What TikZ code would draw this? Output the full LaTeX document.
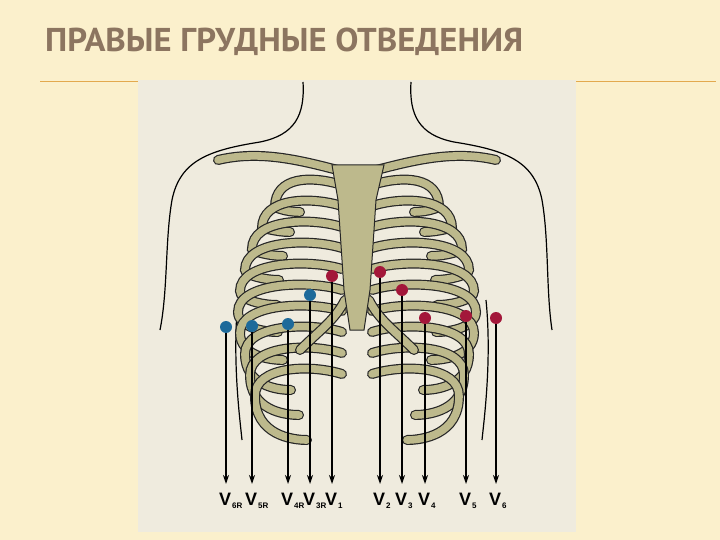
\documentclass[tikz,border=0pt]{standalone}
\usepackage{fontspec}
\usetikzlibrary{arrows.meta}
\setmainfont{Liberation Sans}
\newfontfamily\titlefont{PT Sans}
\begin{document}
\begin{tikzpicture}[x=1pt,y=-1pt,
 bone/.style={line width=10pt,draw=black!85,line cap=round},
 bonein/.style={line width=7.6pt,draw=bonecol,line cap=round},
 skin/.style={line width=1.2pt,draw=black},
 lead/.style={line width=1.3pt,-{Stealth[length=9pt,width=6pt]}},
 lbl/.style={font=\bfseries\fontsize{18}{18}\selectfont,inner sep=0pt,anchor=north west},
 eb/.style={circle,fill=elblue,inner sep=0pt,minimum size=12pt},
 er/.style={circle,fill=elred,inner sep=0pt,minimum size=12pt}]
\definecolor{bg}{HTML}{FBF0CC}
\definecolor{panel}{HTML}{EFEBDE}
\definecolor{bonecol}{HTML}{BDB98C}
\definecolor{elblue}{HTML}{1E6A9A}
\definecolor{elred}{HTML}{A3173A}
\definecolor{titlec}{HTML}{8C7560}
\definecolor{rule}{HTML}{E3A94E}
\useasboundingbox (0,0) rectangle (720,540);
\fill[bg] (0,0) rectangle (720,540);
\node[anchor=west,text=titlec,font=\titlefont\bfseries\fontsize{33}{33}\selectfont,inner sep=0pt] (title) at (45,42) {\scalebox{1.05}[1]{ПРАВЫЕ ГРУДНЫЕ ОТВЕДЕНИЯ}};
\draw[rule,line width=1pt] (40,82) -- (138,82) (576,82) -- (716,82);
\fill[panel] (138,80) rectangle (576,532);
% body outline
\draw[skin] (303,82) .. controls (305,115) and (295,135) .. (260,142) .. controls (210,150) and (180,160) .. (172,200) .. controls (165,240) and (168,290) .. (160,330);
\draw[skin] (411,82) .. controls (409,115) and (419,135) .. (454,142) .. controls (504,150) and (534,160) .. (542,200) .. controls (549,240) and (546,290) .. (552,330);
\draw[skin] (238,300) .. controls (232,360) and (240,420) .. (242,440);
\draw[skin] (486,300) .. controls (492,360) and (484,420) .. (482,440);
% ribs
\foreach \k/\xo/\ye in {0/275/212,1/262/232,2/252/256,3/245/280,4/240/305,5/238/332,6/240/360,7/245/390,8/250/415,9/255/440}{
 \pgfmathsetmacro\yo{185+\k*21}
 \pgfmathsetmacro\yc{\yo+22}
 \pgfmathsetmacro\xe{\xo+25+\k*3}
 \foreach \st in {bone,bonein}{
  \draw[\st] (342,\yo) .. controls (310,\yo-10) and (\xo,\yo-8) .. (\xo,\yc) .. controls (\xo,\ye-5) and (\xe-15,\ye) .. (\xe,\ye);
  \draw[\st] (372,\yo) .. controls (404,\yo-10) and (714-\xo,\yo-8) .. (714-\xo,\yc) .. controls (714-\xo,\ye-5) and (729-\xe,\ye) .. (714-\xe,\ye);
 }
}
% costal cartilage
\foreach \st in {bone,bonein}{
 \draw[\st] (300,350) .. controls (320,330) and (335,320) .. (345,300);
 \draw[\st] (414,350) .. controls (394,330) and (379,320) .. (369,300);
}
% clavicles
\foreach \st in {bone,bonein}{
 \draw[\st] (345,172) .. controls (300,160) and (260,150) .. (218,160);
 \draw[\st] (369,172) .. controls (414,160) and (454,150) .. (496,160);
}
% sternum
\filldraw[fill=bonecol,draw=black!85,line width=1pt] (332,165) -- (384,165) -- (376,200) -- (370,290) -- (364,330) -- (350,330) -- (344,290) -- (338,200) -- cycle;
% electrodes and leads
\foreach \n/\x/\y/\s/\sub in {a/226/327/eb/6R,b/252/326/eb/5R,c/288/324/eb/4R,d/310/295/eb/3R,e/332/276/er/1,f/380/272/er/2,g/402/290/er/3,h/425/318/er/4,i/466/316/er/5,j/496/318/er/6}{
 \node[\s] (e\n) at (\x,\y) {};
 \coordinate (t\n) at (\x,484);
 \draw[lead] (e\n) -- (t\n);
 \node[lbl] (l\n) at (\x-7,493) {V\kern1pt\raisebox{-3pt}{\fontsize{8}{8}\selectfont\sub}};
}
\end{tikzpicture}
\end{document}
